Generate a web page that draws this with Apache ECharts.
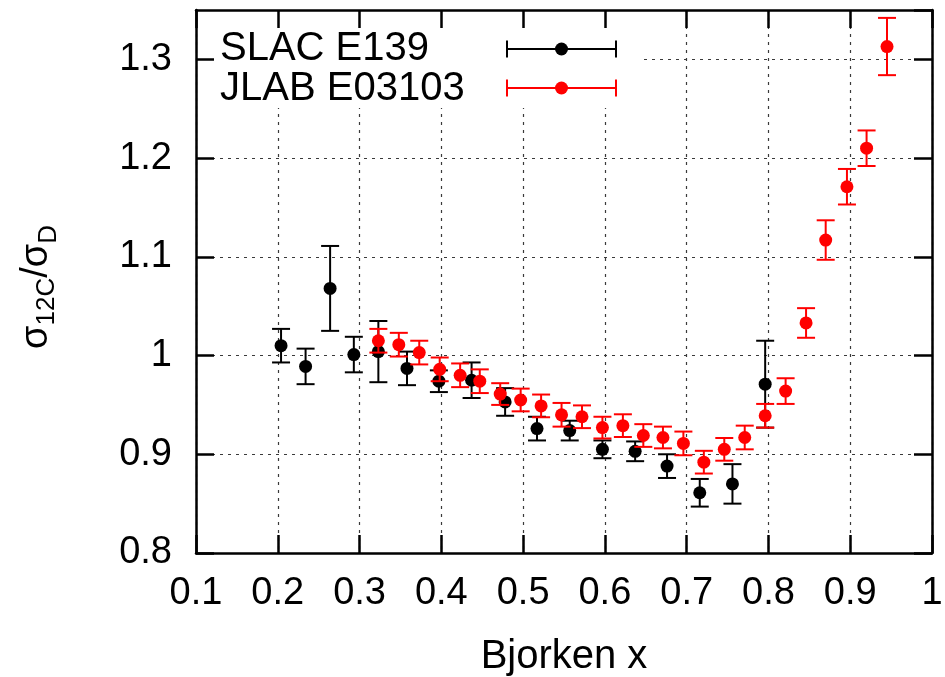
<!DOCTYPE html>
<html>
<head>
<meta charset="utf-8">
<script src="https://cdn.jsdelivr.net/npm/echarts@6/dist/echarts.min.js"></script>
<style>
  html, body { margin: 0; padding: 0; background: #ffffff; }
  #chart { width: 945px; height: 677px; }
</style>
</head>
<body>
<div id="chart"></div>
<script>
// SLAC E139 carbon/deuterium cross-section ratio
const slacName = 'SLAC E139';
const slacX   = [0.204, 0.234, 0.264, 0.293, 0.323, 0.358, 0.397, 0.437, 0.478, 0.517, 0.557, 0.597, 0.637, 0.676, 0.716, 0.756, 0.796];
const slacY   = [1.010, 0.989, 1.068, 1.001, 1.004, 0.987, 0.974, 0.975, 0.953, 0.926, 0.924, 0.905, 0.903, 0.888, 0.861, 0.870, 0.971];
const slacErr = [0.017, 0.018, 0.043, 0.018, 0.031, 0.017, 0.011, 0.018, 0.014, 0.012, 0.010, 0.009, 0.010, 0.012, 0.014, 0.020, 0.044];

// JLAB E03103 carbon/deuterium cross-section ratio
const jlabName = 'JLAB E03103';
const jlabX   = [0.323, 0.348, 0.373, 0.398, 0.423, 0.447, 0.472, 0.497, 0.522, 0.547, 0.572, 0.597, 0.622, 0.647, 0.671, 0.696, 0.721, 0.746, 0.771, 0.796, 0.821, 0.846, 0.870, 0.896, 0.920, 0.945];
const jlabY   = [1.015, 1.011, 1.003, 0.986, 0.980, 0.974, 0.961, 0.955, 0.949, 0.940, 0.938, 0.927, 0.929, 0.919, 0.917, 0.911, 0.892, 0.905, 0.917, 0.939, 0.964, 1.033, 1.117, 1.171, 1.210, 1.313];
const jlabErr = [0.012, 0.012, 0.012, 0.012, 0.012, 0.012, 0.011, 0.0115, 0.0115, 0.012, 0.0115, 0.011, 0.0115, 0.0115, 0.011, 0.012, 0.0115, 0.0115, 0.012, 0.012, 0.013, 0.015, 0.020, 0.018, 0.018, 0.029];

// Axis ranges and tick spacing
const xMin = 0.1, xMax = 1.0, xStep = 0.1;
const yMin = 0.8, yMax = 1.35, yStep = 0.1;

const FONT = '"Liberation Sans", Arial, Helvetica, sans-serif';
const BLACK = '#000000';
const RED = '#ff0000';
const CAP = 9;

const fmt = v => String(+v.toFixed(2));

function errorBarSeries(name, color, xs, ys, es, z) {
  return {
    name: name,
    type: 'custom',
    xAxisIndex: 0, yAxisIndex: 0,
    z: z,
    silent: true,
    encode: { x: 0, y: [1, 2] },
    data: xs.map((x, i) => [x, ys[i] - es[i], ys[i] + es[i]]),
    renderItem: function (params, api) {
      const lo = api.coord([api.value(0), api.value(1)]);
      const hi = api.coord([api.value(0), api.value(2)]);
      const st = { stroke: color, lineWidth: 2 };
      return {
        type: 'group',
        children: [
          { type: 'line', shape: { x1: lo[0], y1: lo[1], x2: hi[0], y2: hi[1] }, style: st },
          { type: 'line', shape: { x1: lo[0] - CAP, y1: lo[1], x2: lo[0] + CAP, y2: lo[1] }, style: st },
          { type: 'line', shape: { x1: hi[0] - CAP, y1: hi[1], x2: hi[0] + CAP, y2: hi[1] }, style: st }
        ]
      };
    }
  };
}

function pointSeries(name, color, xs, ys, z) {
  return {
    name: name,
    type: 'scatter',
    xAxisIndex: 0, yAxisIndex: 0,
    z: z,
    symbol: 'circle',
    symbolSize: 13,
    itemStyle: { color: color, opacity: 1 },
    emphasis: { disabled: true },
    data: xs.map((x, i) => [x, ys[i]])
  };
}

const frameLine = { show: true, lineStyle: { color: BLACK, width: 2.5 } };
const frameTick = { show: true, inside: true, length: 18, lineStyle: { color: BLACK, width: 2.5 } };
const gridLine = { show: true, lineStyle: { color: '#3a3a3a', width: 1.2, type: [3, 5] } };

const chart = echarts.init(document.getElementById('chart'), null, { renderer: 'canvas' });

// legend sample: horizontal error bar with a dot in the middle
function legendSample(color, y) {
  const x1 = 507, x2 = 616, xm = 561.5, h = 8.5;
  return [
    { type: 'line', z: 3, shape: { x1: x1, y1: y, x2: x2, y2: y }, style: { stroke: color, lineWidth: 2 } },
    { type: 'line', z: 3, shape: { x1: x1, y1: y - h, x2: x1, y2: y + h }, style: { stroke: color, lineWidth: 2 } },
    { type: 'line', z: 3, shape: { x1: x2, y1: y - h, x2: x2, y2: y + h }, style: { stroke: color, lineWidth: 2 } },
    { type: 'circle', z: 3, shape: { cx: xm, cy: y, r: 6.5 }, style: { fill: color } }
  ];
}

chart.setOption({
  animation: false,
  backgroundColor: '#ffffff',
  grid: { left: 196, right: 13, top: 10, bottom: 124, containLabel: false, outerBoundsMode: 'none' },
  xAxis: [
    {
      type: 'value', position: 'bottom', min: xMin, max: xMax, interval: xStep, z: 2,
      axisLine: frameLine, axisTick: frameTick, splitLine: { show: false },
      axisLabel: { show: true, margin: 22, color: BLACK, fontSize: 38, fontFamily: FONT, formatter: fmt },
      name: 'Bjorken x', nameLocation: 'middle', nameGap: 84,
      nameTextStyle: { color: BLACK, fontSize: 40, fontFamily: FONT }
    },
    {
      type: 'value', position: 'top', min: xMin, max: xMax, interval: xStep, z: 2,
      axisLine: frameLine, axisTick: frameTick, splitLine: { show: false }, axisLabel: { show: false }
    },
    {
      type: 'value', position: 'bottom', min: xMin, max: xMax, interval: xStep, z: 0,
      axisLine: { show: false }, axisTick: { show: false }, axisLabel: { show: false }, splitLine: gridLine
    }
  ],
  yAxis: [
    {
      type: 'value', position: 'left', min: yMin, max: yMax, interval: yStep, z: 2,
      axisLine: frameLine, axisTick: frameTick, splitLine: { show: false },
      axisLabel: { show: true, margin: 24, color: BLACK, fontSize: 38, fontFamily: FONT, formatter: fmt, showMaxLabel: false }
    },
    {
      type: 'value', position: 'right', min: yMin, max: yMax, interval: yStep, z: 2,
      axisLine: frameLine, axisTick: frameTick, splitLine: { show: false }, axisLabel: { show: false }
    },
    {
      type: 'value', position: 'left', min: yMin, max: yMax, interval: yStep, z: 0,
      axisLine: { show: false }, axisTick: { show: false }, axisLabel: { show: false }, splitLine: gridLine
    }
  ],
  graphic: [
    // key box hides the grid behind it
    { type: 'rect', z: 1, shape: { x: 198, y: 12, width: 442, height: 96 }, style: { fill: '#ffffff' } },
    { type: 'text', z: 3, x: 220, y: 49, style: { text: slacName, fill: BLACK, font: '40px ' + FONT, verticalAlign: 'middle', align: 'left' } },
    { type: 'text', z: 3, x: 220, y: 89, style: { text: jlabName, fill: BLACK, font: '40px ' + FONT, verticalAlign: 'middle', align: 'left' } },
    ...legendSample(BLACK, 49),
    ...legendSample(RED, 88),
    // vertical axis title: sigma_12C / sigma_D
    {
      type: 'text', z: 3, x: 38, y: 287, rotation: Math.PI / 2,
      style: {
        text: '{a|σ}{s|12C}{a|/σ}{d|D}',
        align: 'center', verticalAlign: 'middle',
        fill: BLACK,
        rich: {
          a: { fontSize: 38, fontFamily: FONT, lineHeight: 40, verticalAlign: 'top', fill: BLACK },
          s: { fontSize: 26, fontFamily: FONT, lineHeight: 26, verticalAlign: 'top', padding: [16, 0, 0, 0], fill: BLACK },
          d: { fontSize: 26, fontFamily: FONT, lineHeight: 26, verticalAlign: 'top', padding: [18, 0, 0, 0], fill: BLACK }
        }
      }
    }
  ],
  series: [
    errorBarSeries(slacName, BLACK, slacX, slacY, slacErr, 4),
    pointSeries(slacName, BLACK, slacX, slacY, 5),
    errorBarSeries(jlabName, RED, jlabX, jlabY, jlabErr, 6),
    pointSeries(jlabName, RED, jlabX, jlabY, 7)
  ]
});
</script>
</body>
</html>
